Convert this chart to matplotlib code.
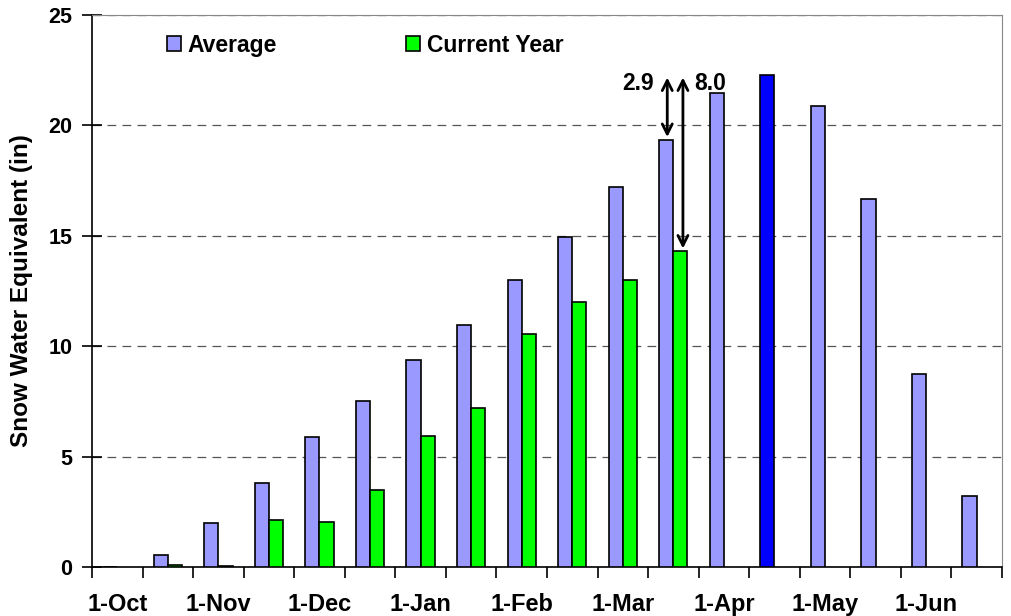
import numpy as np
import matplotlib.pyplot as plt

plt.rcParams['font.family'] = ['Liberation Sans', 'DejaVu Sans']
plt.rcParams['font.weight'] = 'bold'

periodos = ['1-Oct', '15-Oct', '1-Nov', '15-Nov', '1-Dec', '15-Dec', '1-Jan', '15-Jan',
            '1-Feb', '15-Feb', '1-Mar', '15-Mar', '1-Apr', '15-Apr', '1-May', '15-May',
            '1-Jun', '15-Jun']
media = [0.0, 0.55, 2.0, 3.8, 5.9, 7.5, 9.4, 10.95, 13.0, 14.95, 17.2, 19.35,
         21.45, 22.3, 20.9, 16.65, 8.75, 3.2]
ano_atual = [np.nan, 0.1, 0.05, 2.15, 2.05, 3.5, 5.95, 7.2, 10.55, 12.0, 13.0, 14.3,
             np.nan, np.nan, np.nan, np.nan, np.nan, np.nan]
pico = 13  # 15-Apr, maior media
dif_pico = '2.9'
dif_atual = '8.0'

x = np.arange(len(periodos))
cores = ['#9999FF'] * len(periodos)
cores[pico] = '#0000FF'

fig = plt.figure(figsize=(10.11, 6.16), dpi=100)
ax = fig.add_axes([0.091, 0.0795, 0.9, 0.896])

ax.bar(x - 0.14, media, width=0.28, color=cores, edgecolor='black', linewidth=1.2,
       label='Average', zorder=3)
ax.bar(x + 0.14, ano_atual, width=0.28, color='#00FF00', edgecolor='black', linewidth=1.2,
       label='Current Year', zorder=3)

ax.set_xlim(-0.5, len(periodos) - 0.5)
ax.set_ylim(0, 25)
ax.set_yticks(range(0, 26, 5))
ax.yaxis.grid(True, linestyle=(0, (7, 5)), color='#555555', linewidth=0.9)
ax.set_axisbelow(True)

ax.set_xticks(np.arange(len(periodos) + 1) - 0.5)
ax.set_xticklabels([])
ax.set_xticks(x[::2], minor=True)
ax.set_xticklabels(periodos[::2], minor=True)
ax.tick_params(axis='x', which='major', length=8, direction='out', width=1.2)
ax.tick_params(axis='x', which='minor', length=0, pad=19, labelsize=17)
ax.tick_params(axis='y', length=14, direction='inout', width=1.2, labelsize=15.5, pad=7)

for lado in ['top', 'right']:
    ax.spines[lado].set_color('#888888')
for lado in ['left', 'bottom']:
    ax.spines[lado].set_linewidth(1.2)

ax.set_ylabel('Snow Water Equivalent (in)', fontsize=17.5, fontweight='bold', labelpad=11)

# setas de diferenca
i_atual = 11
ax.annotate('', xy=(i_atual - 0.12, media[i_atual]), xytext=(i_atual - 0.12, media[pico]),
            arrowprops=dict(arrowstyle='<->', lw=2, color='black', mutation_scale=18))
ax.annotate('', xy=(i_atual + 0.19, ano_atual[i_atual]), xytext=(i_atual + 0.19, media[pico]),
            arrowprops=dict(arrowstyle='<->', lw=2, color='black', mutation_scale=18))
ax.text(i_atual - 0.38, 21.9, dif_pico, ha='right', va='center', fontsize=16.5, fontweight='bold')
ax.text(i_atual + 0.42, 21.9, dif_atual, ha='left', va='center', fontsize=16.5, fontweight='bold')

leg = ax.legend(loc='upper left', bbox_to_anchor=(0.0595, 1.004), ncol=2, frameon=False,
                fontsize=16.5, handlelength=0.62, handleheight=0.62, handletextpad=0.3,
                columnspacing=5.6)

fig.savefig('out.png', dpi=100)
